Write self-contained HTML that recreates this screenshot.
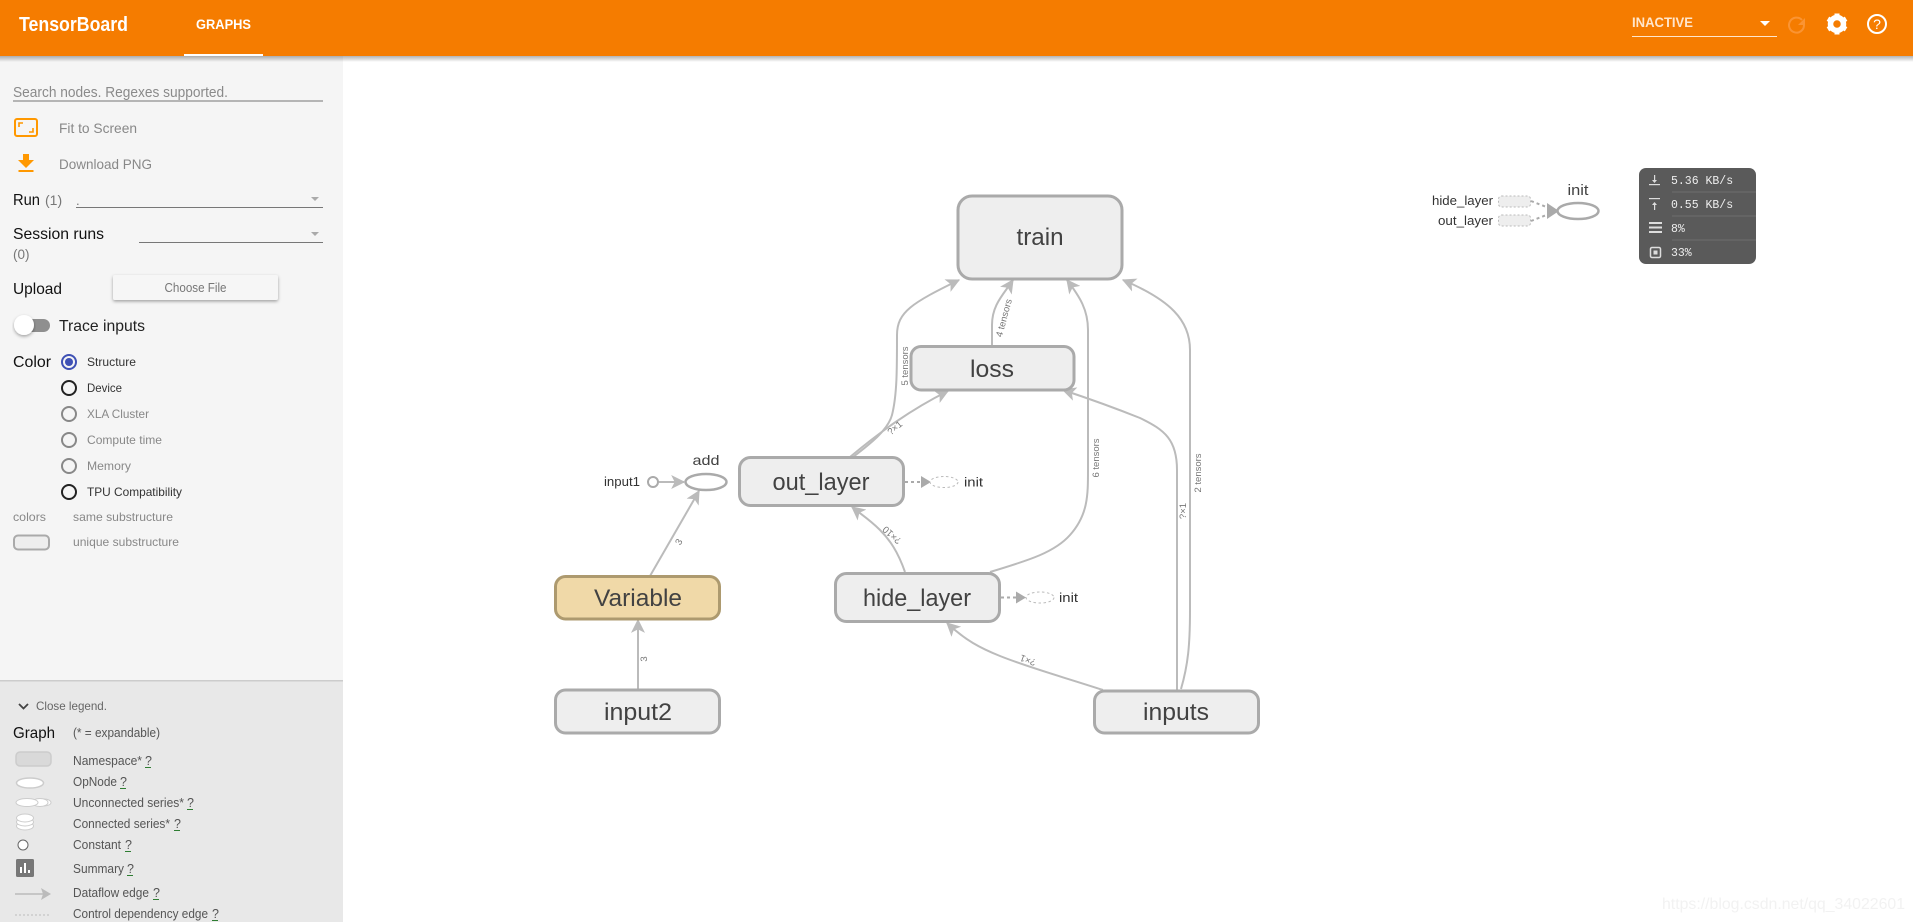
<!DOCTYPE html>
<html><head><meta charset="utf-8"><title>TensorBoard</title>
<style>
html,body{margin:0;padding:0;width:1913px;height:922px;overflow:hidden;background:#fff}
svg{display:block;position:absolute;left:0;top:0}
text{font-family:"Liberation Sans",sans-serif}
.n{font-size:24px;fill:#424242;text-anchor:middle}
.box{fill:#eee;stroke:#aaa;stroke-width:3}
.e{fill:none;stroke:#bbb;stroke-width:2}
.el{font-size:9.5px;fill:#777;text-anchor:middle}
.d{fill:none;stroke:#aaa;stroke-width:2;stroke-dasharray:3 3}
.tri{fill:#aaa}
.dl{fill:#eee;stroke:#bbb;stroke-width:1;stroke-dasharray:2 2}
.s{font-size:13px;fill:#333}
.g{font-size:12.5px;fill:#666}
.l{font-size:14px;fill:#888}
.k{font-size:16px;fill:#111}
.r{font-size:12px}
.q{font-size:12.5px;fill:#555}
.m{font-family:"Liberation Mono",monospace;font-size:11.5px;fill:#eee}
</style></head><body>
<svg width="1913" height="922" viewBox="0 0 1913 922" xmlns="http://www.w3.org/2000/svg">
<defs>
<marker id="a" markerUnits="userSpaceOnUse" viewBox="0 0 12 12" refX="11" refY="6" markerWidth="14" markerHeight="14" orient="auto"><path d="M0 0L12 6L0 12L3 6Z" fill="#bbb"/></marker>
<linearGradient id="sh" x1="0" y1="0" x2="0" y2="1"><stop offset="0" stop-color="#000" stop-opacity=".3"/><stop offset="1" stop-color="#000" stop-opacity="0"/></linearGradient>
<filter id="bs" x="-10%" y="-30%" width="120%" height="170%"><feDropShadow dx="0" dy="1.5" stdDeviation="1.5" flood-color="#000" flood-opacity=".35"/></filter>
</defs>
<rect width="1913" height="922" fill="#fff"/>
<!-- sidebar -->
<rect x="0" y="56" width="343" height="624" fill="#f5f5f5"/>
<rect x="0" y="680" width="343" height="242" fill="#e8e8e8"/>
<rect x="0" y="680" width="343" height="1.5" fill="#ccc"/>
<!-- toolbar -->
<rect x="0" y="0" width="1913" height="56" fill="#f57c00"/>
<rect x="0" y="56" width="1913" height="6" fill="url(#sh)"/>
<text x="19" y="31" font-size="20" font-weight="bold" fill="#fff" textLength="109" lengthAdjust="spacingAndGlyphs">TensorBoard</text>
<text x="196" y="29" font-size="13.5" font-weight="bold" fill="#fff" textLength="55" lengthAdjust="spacingAndGlyphs">GRAPHS</text>
<rect x="184" y="54" width="79" height="2" fill="#fff"/>
<text x="1632" y="27" font-size="13.5" font-weight="bold" fill="#ffe6cc" textLength="61" lengthAdjust="spacingAndGlyphs">INACTIVE</text>
<rect x="1632" y="36" width="145" height="1" fill="#ffe6cc"/>
<path d="M1760 21L1770 21L1765 26Z" fill="#fff"/>
<path d="M1804 25a7.500 7.500 0 1 1-2-5" fill="none" stroke="#fa9433" stroke-width="2"/><path d="M1805 18v7h-7Z" fill="#fa9433"/>
<g transform="translate(1837 24)" fill="#fff"><circle r="6.500" fill="none" stroke="#fff" stroke-width="5.500"/>
<rect x="-2.500" y="-10.500" width="5" height="5"/><rect x="-2.500" y="5.500" width="5" height="5"/>
<rect x="-2.500" y="-10.500" width="5" height="5" transform="rotate(60)"/><rect x="-2.500" y="5.500" width="5" height="5" transform="rotate(60)"/>
<rect x="-2.500" y="-10.500" width="5" height="5" transform="rotate(120)"/><rect x="-2.500" y="5.500" width="5" height="5" transform="rotate(120)"/></g>
<circle cx="1877" cy="24" r="9" fill="none" stroke="#fff" stroke-width="2"/>
<text x="1877" y="29" font-size="14" fill="#fff" text-anchor="middle">?</text>

<!-- left controls -->
<text x="13" y="97" font-size="14.500" fill="#8a8a8a" textLength="215" lengthAdjust="spacingAndGlyphs">Search nodes. Regexes supported.</text>
<rect x="13" y="100.500" width="310" height="1" fill="#757575"/>
<rect x="15" y="119" width="22" height="17" rx="2" fill="none" stroke="#ff9800" stroke-width="2"/>
<path d="M19 127v-4h4M33 128v4h-4" fill="none" stroke="#ff9800" stroke-width="1.600"/>
<text x="59" y="133" class="l" textLength="78" lengthAdjust="spacingAndGlyphs">Fit to Screen</text>
<path d="M23 154h6v6h5l-8 8-8-8h5Z" fill="#ff9800"/><rect x="18.500" y="170" width="15" height="2" fill="#ff9800"/>
<text x="59" y="169" class="l" textLength="93" lengthAdjust="spacingAndGlyphs">Download PNG</text>
<text x="13" y="205" class="k" textLength="27" lengthAdjust="spacingAndGlyphs">Run</text>
<text x="45" y="205" font-size="14" fill="#777">(1)</text>
<text x="76" y="205" font-size="13" fill="#777">.</text>
<rect x="76" y="207" width="247" height="1" fill="#777"/>
<path d="M311 197h8l-4 4Z" fill="#aaa"/>
<text x="13" y="239" class="k" textLength="91" lengthAdjust="spacingAndGlyphs">Session runs</text>
<rect x="139" y="242" width="184" height="1" fill="#777"/>
<path d="M311 232h8l-4 4Z" fill="#aaa"/>
<text x="13" y="259" font-size="13.500" fill="#777">(0)</text>
<text x="13" y="294" class="k" textLength="49" lengthAdjust="spacingAndGlyphs">Upload</text>
<rect x="113" y="275" width="165" height="25" rx="2" fill="#f6f6f6" filter="url(#bs)"/>
<text x="195.500" y="292" font-size="12.500" fill="#777" text-anchor="middle" textLength="62" lengthAdjust="spacingAndGlyphs">Choose File</text>
<rect x="24" y="319" width="26" height="13" rx="6.500" fill="#8f8f8f"/>
<circle cx="24" cy="325" r="10" fill="#fff" filter="url(#bs)"/>
<text x="59" y="331" font-size="16" fill="#222" textLength="86" lengthAdjust="spacingAndGlyphs">Trace inputs</text>
<text x="13" y="367" class="k" textLength="38" lengthAdjust="spacingAndGlyphs">Color</text>
<circle cx="69" cy="362" r="7" fill="none" stroke="#3f51b5" stroke-width="2"/><circle cx="69" cy="362" r="4" fill="#3f51b5"/>
<circle cx="69" cy="388" r="7" fill="none" stroke="#222" stroke-width="2"/>
<circle cx="69" cy="414" r="7" fill="none" stroke="#888" stroke-width="2"/>
<circle cx="69" cy="440" r="7" fill="none" stroke="#888" stroke-width="2"/>
<circle cx="69" cy="466" r="7" fill="none" stroke="#888" stroke-width="2"/>
<circle cx="69" cy="492" r="7" fill="none" stroke="#222" stroke-width="2"/>
<text x="87" y="366" class="r" fill="#333" textLength="49" lengthAdjust="spacingAndGlyphs">Structure</text>
<text x="87" y="392" class="r" fill="#333" textLength="35" lengthAdjust="spacingAndGlyphs">Device</text>
<text x="87" y="418" class="r" fill="#888" textLength="62" lengthAdjust="spacingAndGlyphs">XLA Cluster</text>
<text x="87" y="444" class="r" fill="#888" textLength="75" lengthAdjust="spacingAndGlyphs">Compute time</text>
<text x="87" y="470" class="r" fill="#888" textLength="44" lengthAdjust="spacingAndGlyphs">Memory</text>
<text x="87" y="496" class="r" fill="#333" textLength="95" lengthAdjust="spacingAndGlyphs">TPU Compatibility</text>
<text x="13" y="521" font-size="12" fill="#888" textLength="33" lengthAdjust="spacingAndGlyphs">colors</text>
<text x="73" y="521" font-size="12" fill="#888" textLength="100" lengthAdjust="spacingAndGlyphs">same substructure</text>
<rect x="14" y="535.500" width="35" height="14" rx="4" fill="#eee" stroke="#aaa" stroke-width="2"/>
<text x="73" y="546" font-size="12" fill="#888" textLength="106" lengthAdjust="spacingAndGlyphs">unique substructure</text>

<!-- legend -->
<path d="M19 704l4.500 4.500 4.500-4.500" fill="none" stroke="#444" stroke-width="1.800"/>
<text x="36" y="710" font-size="12" fill="#666" textLength="71" lengthAdjust="spacingAndGlyphs">Close legend.</text>
<text x="13" y="738" class="k" textLength="42" lengthAdjust="spacingAndGlyphs">Graph</text>
<text x="73" y="737" class="q" textLength="87" lengthAdjust="spacingAndGlyphs">(* = expandable)</text>
<rect x="16" y="752" width="35" height="14" rx="4" fill="#d9d9d9" stroke="#ccc" stroke-width="1.500"/>
<text x="73" y="765" class="q" textLength="69" lengthAdjust="spacingAndGlyphs">Namespace*</text><text x="145" y="765" class="q">?</text>
<ellipse cx="30" cy="783" rx="13.500" ry="5" fill="#fff" stroke="#ccc" stroke-width="1.500"/>
<text x="73" y="786" class="q" textLength="44" lengthAdjust="spacingAndGlyphs">OpNode</text><text x="120" y="786" class="q">?</text>
<ellipse cx="44" cy="802.500" rx="7" ry="3.500" fill="#fff" stroke="#ccc"/><ellipse cx="40" cy="802.500" rx="8" ry="4" fill="#fff" stroke="#ccc"/><ellipse cx="27" cy="802.500" rx="11" ry="4" fill="#fff" stroke="#ccc"/>
<text x="73" y="807" class="q" textLength="111" lengthAdjust="spacingAndGlyphs">Unconnected series*</text><text x="187" y="807" class="q">?</text>
<ellipse cx="25" cy="826" rx="8.500" ry="4" fill="#fff" stroke="#ccc"/><ellipse cx="25" cy="822" rx="8.500" ry="4" fill="#fff" stroke="#ccc"/><ellipse cx="25" cy="818" rx="8.500" ry="4" fill="#fff" stroke="#ccc"/>
<text x="73" y="828" class="q" textLength="97" lengthAdjust="spacingAndGlyphs">Connected series*</text><text x="174" y="828" class="q">?</text>
<circle cx="23" cy="845" r="5" fill="#fff" stroke="#666" stroke-width="1"/>
<text x="73" y="849" class="q" textLength="48" lengthAdjust="spacingAndGlyphs">Constant</text><text x="125" y="849" class="q">?</text>
<rect x="16" y="859" width="18" height="18" rx="1.500" fill="#777"/><rect x="20" y="867" width="2" height="6" fill="#fff"/><rect x="24" y="863" width="2" height="10" fill="#fff"/><rect x="28" y="870" width="2" height="3" fill="#fff"/>
<text x="73" y="873" class="q" textLength="51" lengthAdjust="spacingAndGlyphs">Summary</text><text x="127" y="873" class="q">?</text>
<line x1="15" y1="894" x2="45" y2="894" stroke="#bbb" stroke-width="1.500"/><path d="M41 888L51 894L41 900L43 894Z" fill="#bbb"/>
<text x="73" y="897" class="q" textLength="76" lengthAdjust="spacingAndGlyphs">Dataflow edge</text><text x="153" y="897" class="q">?</text>
<line x1="15" y1="915" x2="51" y2="915" stroke="#bbb" stroke-width="1" stroke-dasharray="2 2"/>
<text x="73" y="918" class="q" textLength="135" lengthAdjust="spacingAndGlyphs">Control dependency edge</text><text x="212" y="918" class="q">?</text>
<g fill="#2e7d32"><rect x="145" y="767" width="6" height="1"/><rect x="120" y="788" width="6" height="1"/><rect x="187" y="809" width="6" height="1"/><rect x="174" y="830" width="6" height="1"/><rect x="125" y="851" width="6" height="1"/><rect x="127" y="875" width="6" height="1"/><rect x="153" y="899" width="6" height="1"/><rect x="212" y="920" width="6" height="1"/></g>

<!-- edges -->
<path class="e" marker-end="url(#a)" d="M853 457C870 444 888 430 892 415C897 395 897 370 897 335C897 312 912 303 959 280"/>
<path class="e" marker-end="url(#a)" d="M850 457C880 432 910 410 948 391"/>
<path class="e" marker-end="url(#a)" d="M992 346L992 325C992 305 1003 295 1013 280"/>
<path class="e" marker-end="url(#a)" d="M990 572C1030 560 1055 552 1070 535C1088 515 1088 495 1088 470L1088 330C1088 310 1080 297 1067 280"/>
<path class="e" marker-end="url(#a)" d="M1177 690L1177 470C1177 440 1165 430 1140 418C1115 408 1090 399 1063 390"/>
<path class="e" marker-end="url(#a)" d="M1181 689C1188 665 1190 645 1190 610L1190 350C1190 320 1170 300 1123 280"/>
<path class="e" marker-end="url(#a)" d="M1103 690C1060 676 1030 668 1000 656C980 648 965 640 947 623"/>
<path class="e" marker-end="url(#a)" d="M905 572C898 552 890 540 880 530C870 520 862 515 852 507"/>
<path class="e" marker-end="url(#a)" d="M650 576L699 491"/>
<path class="e" marker-end="url(#a)" d="M638 689L638 620"/>
<path class="e" marker-end="url(#a)" d="M659 482L684 482"/>

<!-- edge labels -->
<text class="el" transform="translate(905 366) rotate(-90)" y="3">5 tensors</text>
<text class="el" transform="translate(1004 318) rotate(-75)" y="3">4 tensors</text>
<text class="el" transform="translate(895 428) rotate(-40)" y="3">?×1</text>
<text class="el" transform="translate(1096 458) rotate(-90)" y="3">6 tensors</text>
<text class="el" transform="translate(1198 473) rotate(-90)" y="3">2 tensors</text>
<text class="el" transform="translate(1183 511) rotate(-90)" y="3">?×1</text>
<text class="el" transform="translate(892 535) rotate(222)" y="3">?×10</text>
<text class="el" transform="translate(1028 660) rotate(200)" y="3">?×1</text>
<text class="el" transform="translate(679 542) rotate(-60)" y="3">3</text>
<text class="el" transform="translate(644 659) rotate(-90)" y="3">3</text>

<!-- nodes -->
<rect class="box" x="958" y="196" width="164" height="83" rx="14"/>
<text class="n" x="1040" y="245" textLength="47" lengthAdjust="spacingAndGlyphs">train</text>
<rect class="box" x="911" y="346.500" width="163" height="43.500" rx="10"/>
<text class="n" x="992" y="377" textLength="44" lengthAdjust="spacingAndGlyphs">loss</text>
<rect class="box" x="739.500" y="457.500" width="164" height="48" rx="11"/>
<text class="n" x="821" y="490" textLength="97" lengthAdjust="spacingAndGlyphs">out_layer</text>
<rect class="box" x="835.500" y="573.500" width="164" height="48" rx="11"/>
<text class="n" x="917" y="606" textLength="108" lengthAdjust="spacingAndGlyphs">hide_layer</text>
<rect x="555.500" y="576.500" width="164" height="42.500" rx="10" fill="#f0d9a8" stroke="#ad9a6f" stroke-width="3"/>
<text class="n" x="638" y="606" textLength="88" lengthAdjust="spacingAndGlyphs">Variable</text>
<rect class="box" x="555.500" y="690" width="164" height="43" rx="10"/>
<text class="n" x="638" y="720" textLength="68" lengthAdjust="spacingAndGlyphs">input2</text>
<rect class="box" x="1094.500" y="691" width="164" height="42" rx="10"/>
<text class="n" x="1176" y="720" textLength="66" lengthAdjust="spacingAndGlyphs">inputs</text>

<ellipse cx="706" cy="482" rx="20.500" ry="8" fill="#fff" stroke="#aaa" stroke-width="2.500"/>
<circle cx="653" cy="482" r="5" fill="#fff" stroke="#aaa" stroke-width="2"/>
<text x="706" y="465" font-size="14" fill="#424242" text-anchor="middle" textLength="27" lengthAdjust="spacingAndGlyphs">add</text>
<text x="604" y="486" class="s" textLength="36" lengthAdjust="spacingAndGlyphs">input1</text>

<!-- init stubs -->
<line x1="905" y1="482" x2="921" y2="482" class="d"/><path class="tri" d="M921 476L931 482L921 488Z"/>
<ellipse cx="944" cy="482" rx="14" ry="5.500" fill="#fff" stroke="#bbb" stroke-dasharray="2.500 2.500"/>
<text x="964" y="486.500" class="s" textLength="19" lengthAdjust="spacingAndGlyphs">init</text>
<line x1="1001" y1="597.500" x2="1017" y2="597.500" class="d"/><path class="tri" d="M1016 591.500L1026 597.500L1016 603.500Z"/>
<ellipse cx="1040" cy="597.500" rx="14" ry="5.500" fill="#fff" stroke="#bbb" stroke-dasharray="2.500 2.500"/>
<text x="1059" y="602" class="s" textLength="19" lengthAdjust="spacingAndGlyphs">init</text>

<!-- aux init -->
<text x="1432" y="205" class="s" textLength="61" lengthAdjust="spacingAndGlyphs">hide_layer</text>
<text x="1438" y="225" class="s" textLength="55" lengthAdjust="spacingAndGlyphs">out_layer</text>
<rect class="dl" x="1498.500" y="196" width="32" height="11" rx="3"/>
<rect class="dl" x="1498.500" y="215" width="32" height="11" rx="3"/>
<line x1="1531" y1="201" x2="1549" y2="208" class="d"/><line x1="1531" y1="221" x2="1549" y2="214" class="d"/>
<path class="tri" d="M1547 203L1559 211L1547 219Z"/>
<ellipse cx="1578" cy="211" rx="20.500" ry="8" fill="#fff" stroke="#aaa" stroke-width="2.500"/>
<text x="1578" y="195" font-size="15" fill="#424242" text-anchor="middle" textLength="21" lengthAdjust="spacingAndGlyphs">init</text>

<!-- stats -->
<rect x="1639" y="168" width="117" height="96" rx="7" fill="#5a5a5a"/>
<g fill="#6d6d6d"><rect x="1672" y="191.500" width="84" height="1"/><rect x="1672" y="215.500" width="84" height="1"/><rect x="1672" y="239.500" width="84" height="1"/></g>
<text x="1671" y="184" class="m">5.36 KB/s</text>
<text x="1671" y="208" class="m">0.55 KB/s</text>
<text x="1671" y="232" class="m">8%</text>
<text x="1671" y="256" class="m">33%</text>
<g fill="#ddd">
<rect x="1649" y="184" width="11" height="1.200"/><rect x="1654" y="175" width="1.200" height="6"/><path d="M1652 180h5l-2.500 3Z"/>
<rect x="1649" y="198" width="11" height="1.200"/><rect x="1654" y="204" width="1.200" height="6"/><path d="M1652 205h5l-2.500-3Z"/>
<rect x="1649" y="222" width="13" height="2"/><rect x="1649" y="226.500" width="13" height="2"/><rect x="1649" y="231" width="13" height="2"/>
</g>
<rect x="1650.500" y="247.500" width="10" height="10" rx="1.500" fill="none" stroke="#ddd" stroke-width="1.500"/><rect x="1653.500" y="250.500" width="4" height="4" fill="#ddd"/>

<text x="1662" y="909" font-size="16" fill="#f2f2f2" textLength="243" lengthAdjust="spacingAndGlyphs">https://blog.csdn.net/qq_34022601</text>
</svg>
</body></html>
